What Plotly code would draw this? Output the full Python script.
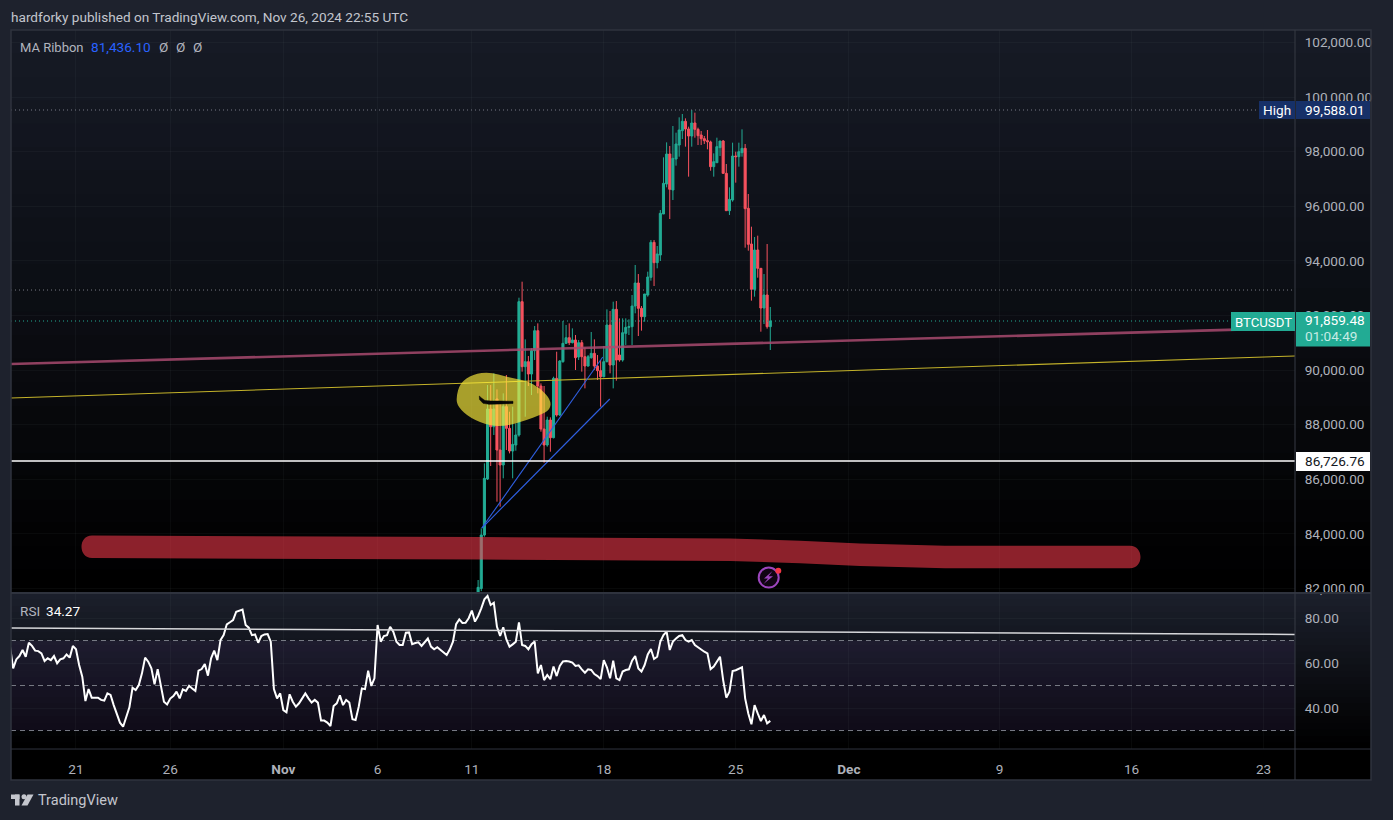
import pandas as pd
import plotly.graph_objects as go

W, H = 1393, 820

opens = [81800,81998,83956,86007,88571,87924,88938,87069,86520,88657,87863,87033,87253,87619,92503,90122,90305,89853,90708,91440,
         89414,87838,87253,88168,87521,89694,88351,90305,90977,91184,91001,91099,90476,91001,90488,90146,90451,90610,90146,89975,
         89755,90305,91648,90183,92222,90549,90366,91342,91563,91587,92344,93187,92259,91954,92747,93394,94676,93932,94212,95714,
         96813,97912,96593,97729,98242,98767,99109,98828,98571,99048,98816,98608,98474,98400,98352,97448,97594,98144,98388,97204,
         95836,96227,97839,97814,97961,98120,95922,94615,92955,94396,93724,92271,92747,91587]
highs = [82307,84200,86581,89450,89450,89878,89291,88779,89145,89817,88473,88657,88046,92649,93235,91123,90512,90793,91611,91709,
         89511,89414,88290,88266,89755,90671,90366,91795,91648,91709,91526,91282,91099,91099,90818,90549,91392,91123,90549,90366,
         90879,92222,92161,92503,92527,91892,91892,91892,91856,92747,93846,93516,92344,92784,93602,94762,94762,94542,95861,97790,
         98339,98205,98938,98693,99255,99377,99218,98913,99524,99426,98877,98754,98571,98791,98400,97936,98510,98388,98425,97546,
         96691,98327,97997,98327,98816,98278,96447,95250,94872,94921,93724,93516,94615,92308]
lows = [81700,81900,83895,85970,86483,87619,85177,84994,86032,87069,86947,86032,87045,87558,89939,88290,89414,89084,90366,89145,
        87741,86605,87191,87008,87497,88290,88315,90268,90952,90915,90977,90000,90366,89939,89328,90122,90415,90000,89633,88657,
        89731,90280,89878,89328,89609,90305,90305,90915,91282,90916,92076,91245,91441,91770,92686,93272,93077,93724,93993,95714,
        96691,95531,96227,97485,97814,98461,98181,97082,98181,98510,98242,98242,98278,98083,97301,97082,97594,97839,97179,95836,
        95678,96166,96862,97448,97814,94481,94371,92540,92686,93382,91404,91685,91514,90733]
closes = [82039,83956,86032,88571,87924,88571,87069,86520,88657,87863,87033,87277,87619,92503,90122,90305,89853,90708,91440,89414,
          87838,87253,88168,87521,89694,88351,90329,90977,91184,91001,91099,90451,91001,90488,90146,90488,90610,90146,89975,89755,
          90305,91648,90183,92222,90366,90366,91367,91563,91587,92344,93187,92259,91954,92784,93406,94676,93932,94249,95739,96838,
          97912,96618,97753,98278,98791,99109,98828,98571,99048,98816,98583,98474,98400,98364,97448,97631,98181,98388,97204,95836,
          96251,97839,97814,97997,98120,95910,94603,92955,94396,93724,92271,92747,91587,91795]

rsi_values = [67.3,57.6,61.6,63.1,65.8,62.8,69.0,67.6,65.5,65.3,64.3,60.9,62.1,61.3,63.1,59.9,61.6,62.1,63.8,62.4,
              67.6,66.1,59.1,53.9,43.1,48.4,44.6,44.7,44.6,43.6,43.3,46.5,45.8,41.3,37.6,33.5,31.7,36.2,40.3,49.0,
              48.0,50.2,55.4,62.4,60.6,57.6,50.5,57.3,50.2,42.8,41.6,44.2,45.3,47.3,44.3,48.3,47.6,49.9,48.7,47.6,
              56.6,57.3,59.6,54.4,62.1,65.5,61.3,70.2,72.4,77.2,78.1,79.1,82.8,83.3,83.8,76.9,75.7,72.4,72.7,69.0,
              72.0,72.7,72.9,69.5,48.4,44.3,46.5,39.1,38.1,46.1,42.8,40.6,42.1,44.3,46.5,44.3,42.4,43.6,42.4,34.4,
              34.4,33.5,32.0,40.9,42.1,45.6,41.3,43.6,42.4,35.0,34.7,40.6,48.7,48.4,56.6,49.8,53.2,76.9,69.5,72.0,
              72.4,76.1,73.9,69.5,68.0,68.0,73.5,73.6,68.4,68.9,69.2,67.6,69.5,70.9,67.3,66.1,67.0,65.8,64.6,63.6,
              66.1,69.5,77.3,79.4,77.8,77.9,79.9,83.3,78.4,80.9,84.3,88.3,89.8,85.8,86.8,76.1,72.0,75.9,70.5,67.3,
              68.3,69.5,78.1,68.0,67.6,66.1,68.4,69.5,55.4,59.1,52.4,54.7,52.8,58.4,54.2,58.7,60.7,60.9,60.7,60.2,
              58.7,59.0,57.2,55.7,57.2,56.9,55.1,54.2,52.9,61.3,58.1,53.2,61.0,53.2,52.4,56.2,56.9,57.2,61.0,63.1,
              57.6,56.2,59.1,63.8,66.2,61.8,62.8,69.5,72.4,73.9,65.8,69.5,70.9,72.0,72.4,70.2,69.5,70.2,68.0,67.0,
              65.8,65.0,64.3,57.3,58.4,60.6,62.8,52.4,44.6,47.3,56.4,56.8,57.3,58.1,44.3,37.6,32.8,41.3,37.6,34.2,
              36.9,33.2,34.27]

last_bar = pd.Timestamp("2024-11-26 20:00")
candle_dates = pd.date_range(end=last_bar, periods=len(closes), freq="4h")
rsi_dates = pd.date_range(end=last_bar, periods=len(rsi_values), freq="4h")

time_ticks = ["2024-10-21","2024-10-26","2024-11-01","2024-11-06","2024-11-11","2024-11-18",
              "2024-11-25","2024-12-01","2024-12-09","2024-12-16","2024-12-23"]
time_labels = ["21","26","<b>Nov</b>","6","11","18","25","<b>Dec</b>","9","16","23"]
price_ticks = [82000,84000,86000,88000,90000,92000,94000,96000,98000,100000,102000]
price_labels = ["82,000.00","84,000.00","86,000.00","88,000.00","90,000.00","92,000.00","94,000.00",
                "96,000.00","98,000.00","100,000.00","102,000.00"]
rsi_ticks = [40,60,80]
rsi_labels = ["40.00","60.00","80.00"]
rsi_bands = [70,50,30]

x_start = pd.Timestamp("2024-10-17 13:15")
x_end = pd.Timestamp("2024-12-24 16:05")

pink_line = [90220, 91538]
gold_line = [88974, 90513]
rsi_avg_line = [75.6, 72.7]
blue_start = ("2024-11-11 12:44", 84212)
blue_ends = [("2024-11-17 22:44", 90476), ("2024-11-18 07:38", 88938)]
level_high = max(highs)
level_grey = 92930
level_last = closes[-1]
level_white = 86667

FONT = "Roboto, 'Open Sans', sans-serif"
FS = 13.6
TEAL, RED = "#22ab94", "#f7525f"

L, R, RR = 11, 1295, 1371
T, D1, D2, B = 30, 593, 749, 780
Y_FIT = 1.0037


def px(x):
    return x / W


def py(y):
    return 1 - y * Y_FIT / H


def path(points, close=True):
    s = "M" + " L".join(f"{px(a):.5f},{py(b):.5f}" for a, b in points)
    return s + (" Z" if close else "")


def smooth(points):
    n = len(points)
    mid = lambda a, b: ((a[0] + b[0]) / 2, (a[1] + b[1]) / 2)
    m0 = mid(points[-1], points[0])
    s = f"M{px(m0[0]):.5f},{py(m0[1]):.5f}"
    for i in range(n):
        c, m = points[i], mid(points[i], points[(i + 1) % n])
        s += f" Q{px(c[0]):.5f},{py(c[1]):.5f} {px(m[0]):.5f},{py(m[1]):.5f}"
    return s + " Z"


def rect(x0, y0, x1, y1, color, layer="above"):
    return dict(type="rect", xref="paper", yref="paper", x0=px(x0), x1=px(x1), y0=py(y0), y1=py(y1),
                fillcolor=color, line=dict(width=0), layer=layer)


def text(x, y, s, color="#b2b5be", size=FS, anchor="left"):
    return dict(xref="paper", yref="paper", x=px(x), y=py(y), text=s, showarrow=False, xanchor=anchor,
                yanchor="middle", font=dict(family=FONT, size=size, color=color), borderpad=0, borderwidth=0)


shapes = []
# pane backgrounds, graded from the top of each pane to black
steps = 24
for top, bot, c in [(T, D1, (22, 26, 37)), (D1, D2, (27, 31, 43))]:
    for k in range(steps):
        f = 1 - k / (steps - 1)
        col = f"rgb({round(c[0]*f)},{round(c[1]*f)},{round(c[2]*f)})"
        y0 = top + (bot - top) * k / steps
        y1 = top + (bot - top) * (k + 1) / steps
        shapes.append(rect(L, y0, RR, y1 + 0.5, col, "below"))
shapes.append(rect(L, D2, RR, B, "#000000", "below"))

# RSI background band and level lines
shapes.append(dict(type="rect", xref="paper", yref="y2", x0=px(L), x1=px(R), y0=rsi_bands[2], y1=rsi_bands[0],
                   fillcolor="rgba(126,87,194,0.10)", line=dict(width=0), layer="below"))
for lv in rsi_bands:
    shapes.append(dict(type="line", xref="paper", yref="y2", x0=px(L), x1=px(R), y0=lv, y1=lv,
                       line=dict(color="#787b86", width=1, dash="5px,4px"), layer="below"))

# price level lines
shapes += [
    dict(type="line", xref="paper", yref="y", x0=px(L), x1=px(1258), y0=level_high, y1=level_high,
         line=dict(color="#787b86", width=1, dash="1px,3px")),
    dict(type="line", xref="paper", yref="y", x0=px(L), x1=px(R), y0=level_grey, y1=level_grey,
         line=dict(color="#787b86", width=1, dash="1px,3px")),
    dict(type="line", xref="paper", yref="y", x0=px(L), x1=px(1231), y0=level_last, y1=level_last,
         line=dict(color=TEAL, width=1, dash="1px,3px")),
    dict(type="line", xref="paper", yref="y", x0=px(L), x1=px(R), y0=level_white, y1=level_white,
         line=dict(color="#ffffff", width=1.3)),
]

# hand-drawn marks on the chart
blob = [(456, 398), (460, 383), (473, 374), (490, 372), (507, 377), (527, 381), (540, 388), (551, 400), (550, 410),
        (540, 415), (527, 420), (507, 426), (490, 426), (470, 418), (458, 407)]
shapes.append(dict(type="path", xref="paper", yref="paper", path=smooth(blob),
                   fillcolor="rgba(255,240,60,0.65)", line=dict(width=0), layer="above"))
smile = [(479.3, 396), (481.5, 398), (485, 400.5), (491, 401), (500, 401), (513, 401.3), (513, 403.5), (500, 404),
         (489, 404.3), (483, 403.3), (479.5, 399.5)]
shapes.append(dict(type="path", xref="paper", yref="paper", path=path(smile),
                   fillcolor="#060606", line=dict(width=0.5, color="#060606"), layer="above"))

up = [(92, 535.5), (480, 537), (730, 538.5), (800, 540.7), (860, 543.5), (945, 545.7), (1130, 545.7)]
low = [(a, b + 22.5) for a, b in up][::-1]
band = "M" + " L".join(f"{px(a):.5f},{py(b):.5f}" for a, b in up)
band += (f" C{px(1144):.5f},{py(545.7):.5f} {px(1144):.5f},{py(568.2):.5f} {px(1130):.5f},{py(568.2):.5f} L"
         + " L".join(f"{px(a):.5f},{py(b):.5f}" for a, b in low))
band += f" C{px(78):.5f},{py(558):.5f} {px(78):.5f},{py(535.5):.5f} {px(92):.5f},{py(535.5):.5f} Z"
shapes.append(dict(type="path", xref="paper", yref="paper", path=band,
                   fillcolor="rgba(255,60,78,0.55)", line=dict(width=0), layer="above"))

# alert icon
shapes.append(dict(type="circle", xref="paper", yref="paper", x0=px(758.7), x1=px(778.7), y0=py(567.5), y1=py(587.5),
                   fillcolor="rgba(156,39,176,0.10)", line=dict(color="#9c45bd", width=2), layer="above"))
shapes.append(dict(type="path", xref="paper", yref="paper",
                   path=path([(772.5, 571), (764, 578.5), (768, 578.5), (763.5, 584), (773, 576.3), (768.6, 576.3)]),
                   fillcolor="#9c45bd", line=dict(width=0), layer="above"))
shapes.append(dict(type="circle", xref="paper", yref="paper", x0=px(775.3), x1=px(781.3), y0=py(567.7), y1=py(573.7),
                   fillcolor="#f23645", line=dict(width=0), layer="above"))

# frame lines
frame = "#2f333e"
shapes += [
    dict(type="rect", xref="paper", yref="paper", x0=px(L), x1=px(RR), y0=py(T), y1=py(B), line=dict(color=frame, width=1.5)),
    dict(type="line", xref="paper", yref="paper", x0=px(L), x1=px(RR), y0=py(D1), y1=py(D1), line=dict(color=frame, width=2)),
    dict(type="line", xref="paper", yref="paper", x0=px(L), x1=px(RR), y0=py(D2), y1=py(D2), line=dict(color=frame, width=1)),
    dict(type="line", xref="paper", yref="paper", x0=px(R), x1=px(R), y0=py(T), y1=py(B), line=dict(color="#363a45", width=1)),
]

# price labels
navy = "#163068"
shapes += [rect(1259, 101, R, 119, navy), rect(R + 1, 101, RR - 1, 119, navy),
           rect(1231, 312, R, 331, TEAL), rect(R + 1, 312, RR - 1, 346.5, TEAL),
           rect(R + 1, 452, RR - 1, 471, "#ffffff")]

# logo
logo = "#c4c6cd"
shapes += [rect(11, 794.5, 19.5, 799, logo), rect(15, 794.5, 19.5, 805.5, logo),
           dict(type="circle", xref="paper", yref="paper", x0=px(21.5), x1=px(26.5), y0=py(794.3), y1=py(799.3),
                fillcolor=logo, line=dict(width=0)),
           dict(type="path", xref="paper", yref="paper",
                path=path([(27.5, 794.5), (33.5, 794.5), (27.5, 805.5), (21.5, 805.5)]),
                fillcolor=logo, line=dict(width=0))]

annotations = [
    text(11, 17, "hardforky published on TradingView.com, Nov 26, 2024 22:55 UTC", "#c3c6ce"),
    text(20, 47, "MA Ribbon", "#b2b5be", 13),
    text(91, 47, "81,436.10", "#2962ff"),
    text(159, 47, "Ø", "#b2b5be"),
    text(176, 47, "Ø", "#b2b5be"),
    text(193, 47, "Ø", "#b2b5be"),
    text(20, 611, "RSI", "#b2b5be"),
    text(46, 611, "34.27", "#ffffff"),
    text(1277, 110, "High", "#ffffff", FS, "center"),
    text(1305, 110, "99,588.01", "#ffffff"),
    text(1263, 322, "BTCUSDT", "#ffffff", 13.2, "center"),
    text(1305, 320, "91,859.48", "#ffffff"),
    text(1305, 336, "01:04:49", "#c7ece5"),
    text(1305, 461, "86,726.76", "#131722"),
    text(38, 800, "TradingView", "#c4c6cd", 14.5),
]

fig = go.Figure()
fig.add_trace(go.Candlestick(x=candle_dates, open=opens, high=highs, low=lows, close=closes, xaxis="x", yaxis="y",
                             increasing=dict(line=dict(color=TEAL, width=1), fillcolor=TEAL),
                             decreasing=dict(line=dict(color=RED, width=1), fillcolor=RED),
                             whiskerwidth=0, hoverinfo="skip"))
fig.add_trace(go.Scatter(x=[x_start, x_end], y=pink_line, mode="lines", xaxis="x", yaxis="y",
                         line=dict(color="rgba(168,74,110,0.85)", width=2.6), hoverinfo="skip"))
fig.add_trace(go.Scatter(x=[x_start, x_end], y=gold_line, mode="lines", xaxis="x", yaxis="y",
                         line=dict(color="#c4b32a", width=1.1), hoverinfo="skip"))
for end_date, end_price in blue_ends:
    fig.add_trace(go.Scatter(x=[blue_start[0], end_date], y=[blue_start[1], end_price], mode="lines", xaxis="x", yaxis="y",
                             line=dict(color="#2f5fe0", width=1.1), hoverinfo="skip"))
fig.add_trace(go.Scatter(x=rsi_dates, y=rsi_values, mode="lines", xaxis="x2", yaxis="y2",
                         line=dict(color="#ffffff", width=2), hoverinfo="skip"))
fig.add_trace(go.Scatter(x=[x_start, x_end], y=rsi_avg_line, mode="lines", xaxis="x2", yaxis="y2",
                         line=dict(color="#d6d7da", width=1.5), hoverinfo="skip"))

grid = "rgba(150,155,170,0.055)"
fig.update_layout(
    width=W, height=H, autosize=False, margin=dict(l=0, r=0, t=0, b=0, pad=0),
    paper_bgcolor="#1e222d", plot_bgcolor="rgba(0,0,0,0)", showlegend=False, hovermode=False,
    boxgap=0.06, boxmode="overlay",
    font=dict(family=FONT, size=FS, color="#b2b5be"),
    shapes=shapes, annotations=annotations,
    xaxis=dict(domain=[px(L), px(R)], range=[x_start, x_end], type="date", anchor="y", rangeslider=dict(visible=False),
               tickmode="array", tickvals=time_ticks, ticktext=time_labels, showticklabels=False,
               showgrid=True, gridcolor=grid, zeroline=False, showline=False, ticks=""),
    xaxis2=dict(domain=[px(L), px(R)], range=[x_start, x_end], type="date", anchor="y2",
                tickmode="array", tickvals=time_ticks, ticktext=time_labels,
                showgrid=True, gridcolor=grid, zeroline=False, showline=False,
                ticks="outside", ticklen=8, tickcolor="rgba(0,0,0,0)",
                tickfont=dict(family=FONT, size=FS, color="#aeb1ba")),
    yaxis=dict(domain=[py(D1), py(T)], range=[100000 - (D1 - 97) / 0.0273, 100000 + (97 - T) / 0.0273], side="right",
               anchor="x", tickmode="array", tickvals=price_ticks, ticktext=price_labels,
               showgrid=True, gridcolor=grid, zeroline=False, showline=False,
               ticks="outside", ticklen=6, tickcolor="rgba(0,0,0,0)",
               tickfont=dict(family=FONT, size=FS, color="#aeb1ba")),
    yaxis2=dict(domain=[py(D2), py(D1)], range=[80 - (D2 - 618) / 2.25, 80 + (618 - D1) / 2.25], side="right",
                anchor="x2", tickmode="array", tickvals=rsi_ticks, ticktext=rsi_labels,
                showgrid=True, gridcolor=grid, zeroline=False, showline=False,
                ticks="outside", ticklen=6, tickcolor="rgba(0,0,0,0)",
                tickfont=dict(family=FONT, size=FS, color="#aeb1ba")),
)

fig.write_html("out.html", config={"displayModeBar": False},
               post_script="var s=document.body.style;s.margin='0';s.height='820px';s.overflow='hidden';"
                           "document.documentElement.style.overflow='hidden';"
                           "document.documentElement.style.background='#1e222d';")
